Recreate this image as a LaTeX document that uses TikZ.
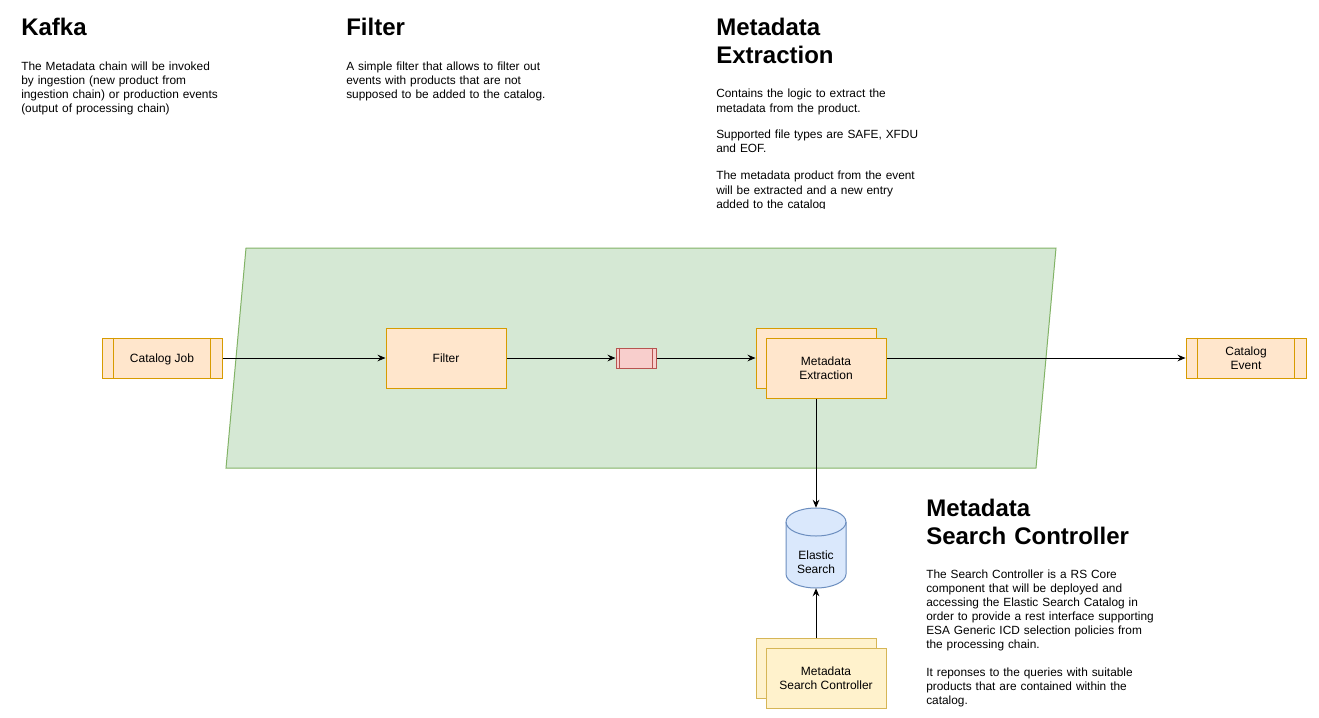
\documentclass[tikz,border=0pt]{standalone}
\usepackage{fontspec}
\setmainfont{Liberation Sans}
\usetikzlibrary{arrows.meta,calc}
\definecolor{oFill}{HTML}{FFE6CC}\definecolor{oDraw}{HTML}{D79B00}
\definecolor{rFill}{HTML}{F8CECC}\definecolor{rDraw}{HTML}{B85450}
\definecolor{gFill}{HTML}{D5E8D4}\definecolor{gDraw}{HTML}{82B366}
\definecolor{bFill}{HTML}{DAE8FC}\definecolor{bDraw}{HTML}{6C8EBF}
\definecolor{yFill}{HTML}{FFF2CC}\definecolor{yDraw}{HTML}{D6B656}
\tikzset{
  box/.style={draw=oDraw,fill=oFill,line width=0.75pt,minimum width=90pt,minimum height=45pt,inner sep=0pt,align=center,font=\fontsize{9}{10.5}\selectfont},
  ybox/.style={box,draw=yDraw,fill=yFill},
  proc/.style={box,minimum height=30pt},
  conn/.style={line width=0.75pt,-{Stealth[length=6pt,width=5pt,inset=2pt]}},
  heading/.style={anchor=base west,inner sep=0pt,text width=300pt,align=left,font=\fontsize{18}{21}\selectfont\bfseries},
  body/.style={anchor=base west,inner sep=0pt,text width=300pt,align=left,font=\fontsize{8.9}{10.5}\selectfont},
}
\begin{document}
\begin{tikzpicture}[x=0.75pt,y=-0.75pt]
\useasboundingbox (0,0) rectangle (1319,717);
% container
\draw[fill=gFill,draw=gDraw,line width=0.75pt] (246,248) -- (1056,248) -- (1036,468) -- (226,468) -- cycle;
% nodes
\node[proc,text height=7pt,text depth=1pt] (cj) at (162,358) {Catalog Job};
\draw[oDraw,line width=0.75pt] ($(cj.north west)+(12,0)$) -- ($(cj.south west)+(12,0)$)
  ($(cj.north east)+(-12,0)$) -- ($(cj.south east)+(-12,0)$);
\node[box,text height=7pt,text depth=1pt] (filter) at (446,358) {Filter};
\node[box,draw=rDraw,fill=rFill,minimum width=30pt,minimum height=15pt] (queue) at (636,358) {};
\draw[rDraw,line width=0.75pt] ($(queue.north west)+(4,0)$) -- ($(queue.south west)+(4,0)$)
  ($(queue.north east)+(-4,0)$) -- ($(queue.south east)+(-4,0)$);
\node[box] (meback) at (816,358) {};
\node[box] (mefront) at (826,368) {Metadata\\Extraction};
\node[proc] (ce) at (1246,358) {Catalog\\Event};
\draw[oDraw,line width=0.75pt] ($(ce.north west)+(12,0)$) -- ($(ce.south west)+(12,0)$)
  ($(ce.north east)+(-12,0)$) -- ($(ce.south east)+(-12,0)$);
% cylinder
\node[minimum width=45pt,minimum height=60pt,inner sep=0pt,align=center,font=\fontsize{9}{10.5}\selectfont] (es) at (816,548) {};
\draw[fill=bFill,draw=bDraw,line width=0.75pt] (786,522) -- (786,574) arc[start angle=180,end angle=360,x radius=30,y radius=-14] -- (846,522) arc[start angle=0,end angle=180,x radius=30,y radius=-14] -- cycle;
\draw[draw=bDraw,line width=0.75pt] (786,522) arc[start angle=180,end angle=360,x radius=30,y radius=-14];
\node[align=center,font=\fontsize{9}{10.5}\selectfont,inner sep=0pt] at (816,562.5) {Elastic\\Search};
\node[ybox] (mscback) at (816,668) {};
\node[ybox] (mscfront) at (826,678) {Metadata\\Search Controller};
% connectors
\draw[conn] (cj.east) -- (filter.west);
\draw[conn] (filter.east) -- (queue.west);
\draw[conn] (queue.east) -- (meback.west);
\draw[conn] (mefront.east |- ce.west) -- (ce.west);
\draw[conn] (es.north |- mefront.south) -- (es.north);
\draw[conn] (mscback.north) -- (es.south);
% texts
\node[heading] (h1) at (21,36) {Kafka};
\node[body] (t1) at (21,70) {The Metadata chain will be invoked\\by ingestion (new product from\\ingestion chain) or production events\\(output of processing chain)};
\node[heading] (h2) at (346,36) {Filter};
\node[body] (t2) at (346,70) {A simple filter that allows to filter out\\events with products that are not\\supposed to be added to the catalog.};
\node[heading] (h3) at (716,36) {Metadata\\Extraction};
\begin{scope}
\clip (700,80) rectangle (960,208);
\node[body] (t3) at (716,98) {Contains the logic to extract the\\metadata from the product.\\[9pt]Supported file types are SAFE, XFDU\\and EOF.\\[10.5pt]The metadata product from the event\\will be extracted and a new entry\\added to the catalog};
\end{scope}
\node[heading] (h4) at (926,516) {Metadata\\Search Controller};
\node[body] (t4) at (926,578) {The Search Controller is a RS Core\\component that will be deployed and\\accessing the Elastic Search Catalog in\\order to provide a rest interface supporting\\ESA Generic ICD selection policies from\\the processing chain.\\[10.5pt]It reponses to the queries with suitable\\products that are contained within the\\catalog.};
\end{tikzpicture}
\end{document}
